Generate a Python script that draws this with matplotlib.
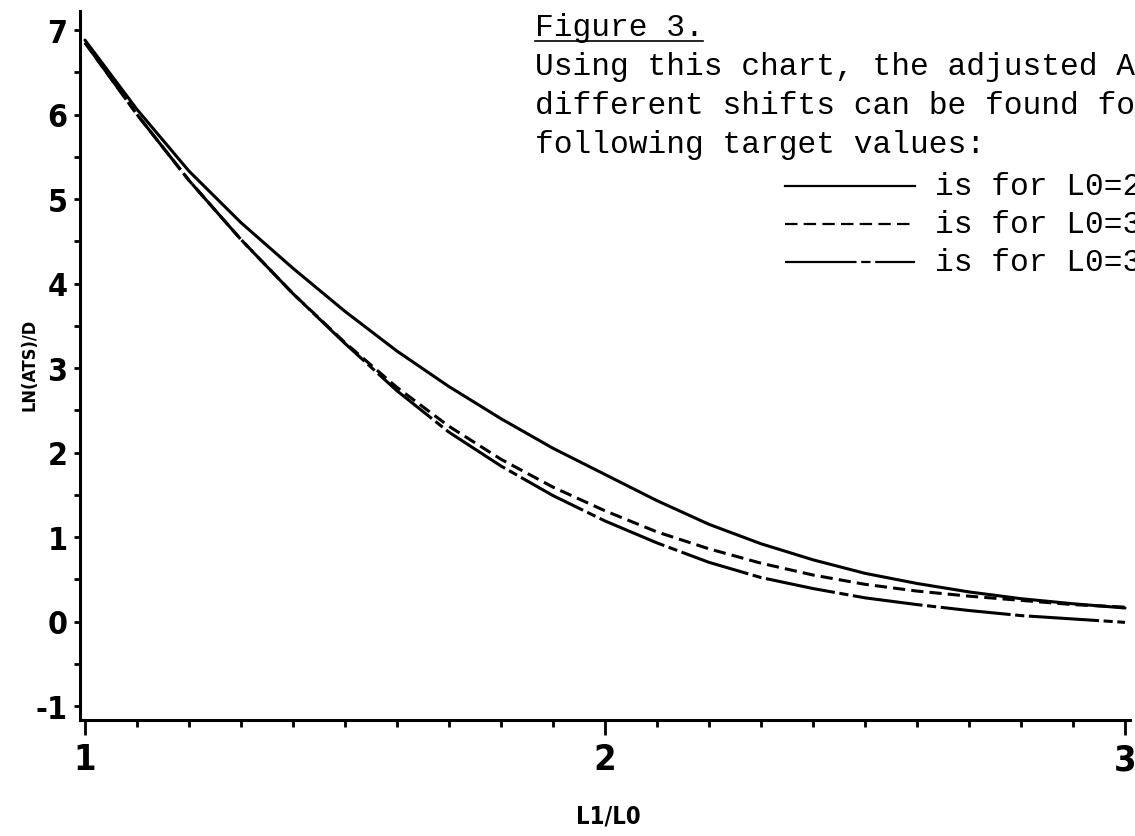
import numpy as np
import matplotlib
matplotlib.use("Agg")
import matplotlib.pyplot as plt
from matplotlib.lines import Line2D
from matplotlib.ticker import MultipleLocator

plt.rcParams["axes.unicode_minus"] = False

# ratio L1/L0 on the x axis
ratio = [1.0, 1.1, 1.2, 1.3, 1.4, 1.5, 1.6, 1.7, 1.8, 1.9, 2.0,
         2.1, 2.2, 2.3, 2.4, 2.5, 2.6, 2.7, 2.8, 2.9, 3.0]

# LN(ATS)/D for the three target values
ln_ats_a = [6.88, 6.06, 5.33, 4.72, 4.18, 3.67, 3.20, 2.78, 2.40, 2.05, 1.74,
            1.43, 1.15, 0.92, 0.73, 0.57, 0.45, 0.35, 0.27, 0.21, 0.16]
ln_ats_b = [6.85, 6.00, 5.22, 4.52, 3.88, 3.30, 2.77, 2.31, 1.92, 1.59, 1.31,
            1.06, 0.86, 0.69, 0.55, 0.44, 0.36, 0.30, 0.25, 0.20, 0.17]
ln_ats_c = [6.85, 6.00, 5.22, 4.52, 3.88, 3.29, 2.73, 2.24, 1.84, 1.49, 1.19,
            0.93, 0.70, 0.52, 0.39, 0.28, 0.20, 0.13, 0.07, 0.03, -0.01]

x_ticks = [1, 2, 3]
y_ticks = [-1, 0, 1, 2, 3, 4, 5, 6, 7]

header = "Figure 3."
note_lines = ["Using this chart, the adjusted A",
              "different shifts can be found fo",
              "following target values:"]
legend_text = ["is for L0=2", "is for L0=3", "is for L0=3"]

W, H = 1135, 837
fig = plt.figure(figsize=(W / 100, H / 100), dpi=100)
ax = fig.add_axes([80 / W, (H - 721) / H, 1050 / W, 709 / H])

plot_font = ["DejaVu Sans"]
mono_font = ["Liberation Mono", "DejaVu Sans Mono"]
lw = 2.2

dash_b = (4, 2)
dash_c = (23, 1.5, 3, 1.5)

ax.plot(ratio, ln_ats_a, color="black", lw=lw, solid_capstyle="round", solid_joinstyle="round")
ax.plot(ratio, ln_ats_b, color="black", lw=lw, dashes=dash_b)
ax.plot(ratio, ln_ats_c, color="black", lw=lw, dashes=dash_c)

ax.set_xlim(1 - 5 / 520, 1 + 1045 / 520)
ax.set_ylim(-1 - 14 / 84.5, -1 - 14 / 84.5 + 709 / 84.5)

for side in ["top", "right"]:
    ax.spines[side].set_visible(False)
for side in ["left", "bottom"]:
    ax.spines[side].set_linewidth(2.2)

ax.set_xticks(x_ticks)
ax.set_yticks(y_ticks)
ax.xaxis.set_minor_locator(MultipleLocator(0.1))
ax.yaxis.set_minor_locator(MultipleLocator(0.5))
ax.tick_params(axis="x", which="major", length=11, width=2, pad=5)
ax.tick_params(axis="x", which="minor", length=5, width=2)
ax.tick_params(axis="y", which="major", length=4, width=2, pad=5)
ax.tick_params(axis="y", which="minor", length=4, width=2)

for lab in ax.get_xticklabels():
    lab.set_fontfamily(plot_font)
    lab.set_fontweight("bold")
    lab.set_fontstretch("condensed")
    lab.set_fontsize(26)
for lab in ax.get_yticklabels():
    lab.set_fontfamily(plot_font)
    lab.set_fontweight("bold")
    lab.set_fontstretch("condensed")
    lab.set_fontsize(23)

fig.text(30 / W, 1 - 365 / H, "LN(ATS)/D", rotation=90, ha="center", va="center",
         family=plot_font, fontweight="bold", fontstretch="condensed", fontsize=13)
fig.text(608 / W, 1 - 817 / H, "L1/L0", ha="center", va="center",
         family=plot_font, fontweight="bold", fontstretch="condensed", fontsize=17)

# heading and explanatory note, typewriter style
fs = 22.5
fig.text(535 / W, 1 - 36 / H, header, ha="left", va="baseline", family=mono_font, fontsize=fs)
fig.add_artist(Line2D([535 / W, 703 / W], [1 - 42 / H, 1 - 42 / H], color="black", lw=1.2))
for i, line in enumerate(note_lines):
    fig.text(535 / W, 1 - (75 + 39 * i) / H, line, ha="left", va="baseline",
             family=mono_font, fontsize=fs)

# key for the three curves
key_styles = [None, dash_b, dash_c]
for i, (txt, dsh) in enumerate(zip(legend_text, key_styles)):
    yb = 195 + 38 * i
    key = Line2D([785 / W, 915 / W], [1 - (yb - 8) / H] * 2, color="black", lw=1.6)
    if dsh is not None:
        key.set_dashes([d * 1.4 for d in dsh])
    fig.add_artist(key)
    fig.text(935 / W, 1 - yb / H, txt, ha="left", va="baseline", family=mono_font, fontsize=fs)

fig.savefig("out.png", dpi=100)
